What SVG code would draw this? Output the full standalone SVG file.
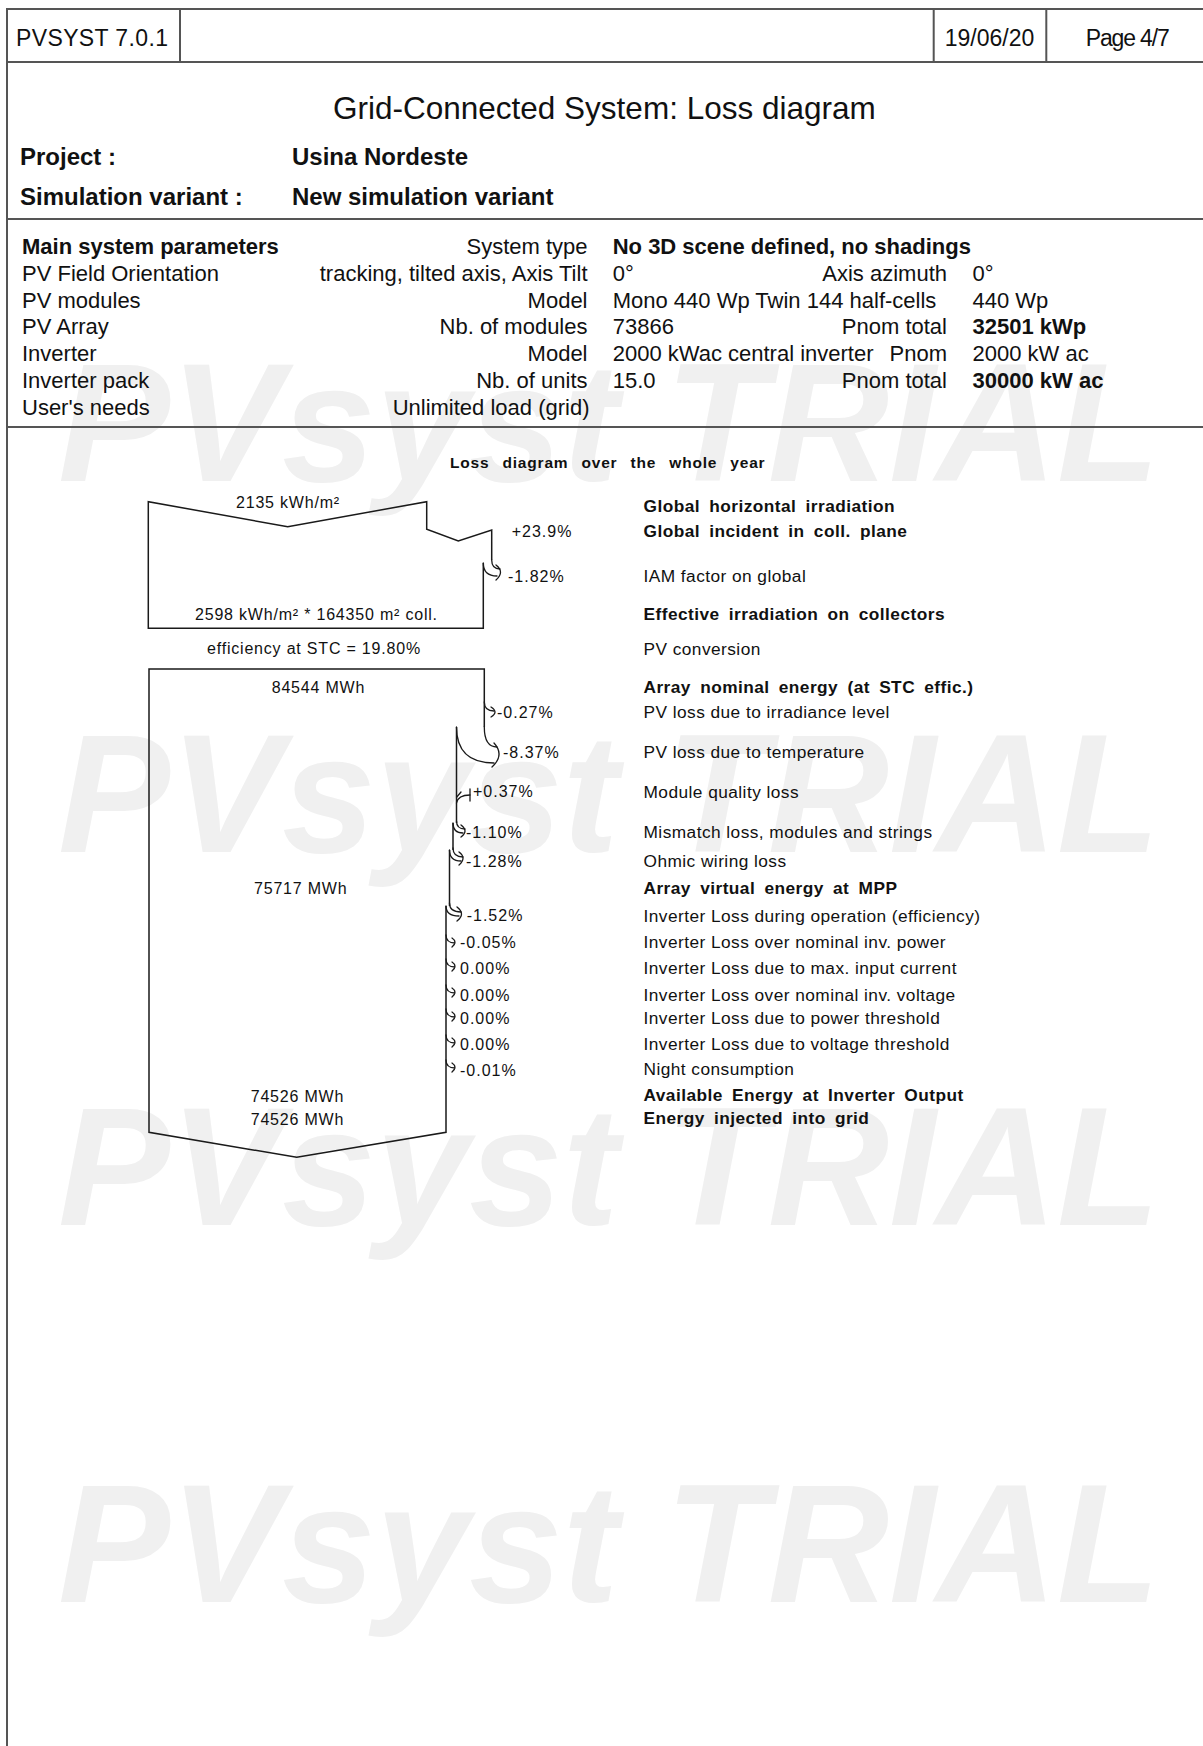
<svg xmlns="http://www.w3.org/2000/svg" width="1203" height="1746" viewBox="0 0 1203 1746">
<style>
text{font-family:"Liberation Sans",Arial,Helvetica,sans-serif;fill:#111}
.wm{font-size:168px;font-weight:bold;font-style:italic;fill:#f0f0f0}
.frame{stroke:#555;stroke-width:2;fill:none}
.hd{font-size:23px}
.title{font-size:31.5px}
.pj{font-size:24px;font-weight:bold}
.tb{font-size:22px}
.b{font-weight:bold}
.e{text-anchor:end}
.cap{font-size:15.5px;font-weight:bold;letter-spacing:0.8px;word-spacing:8px}
.num{font-size:16px;letter-spacing:0.8px}
.pct{font-size:16px;letter-spacing:1px}
.lb{font-size:17.3px;letter-spacing:0.45px}
.lbb{font-size:17.3px;letter-spacing:0.45px;word-spacing:4px;font-weight:bold}
.flow{fill:none;stroke:#1a1a1a;stroke-width:1.5;stroke-linejoin:miter}
.arr{fill:none;stroke:#1a1a1a;stroke-width:1.3;stroke-linecap:round}
</style>

<rect width="1203" height="1746" fill="#fff"/>

<g id="watermarks">
<text class="wm" x="58" y="481">PVsyst TRIAL</text>
<text class="wm" x="58" y="852">PVsyst TRIAL</text>
<text class="wm" x="58" y="1225">PVsyst TRIAL</text>
<text class="wm" x="58" y="1602">PVsyst TRIAL</text>
</g>

<g id="page-frame">
<path class="frame" d="M7,1746 V9 H1203 M7,62 H1203 M180,9 V62 M933.7,9 V62 M1046.3,9 V62 M7,219 H1203 M7,427 H1203"/>
</g>

<g id="header">
<text class="hd" x="16" y="45.5" textLength="152">PVSYST 7.0.1</text>
<text class="hd" x="944.7" y="45.5">19/06/20</text>
<text class="hd" x="1085.7" y="45.5" textLength="84">Page 4/7</text>
</g>

<g id="title-block">
<text class="title" x="333" y="119">Grid-Connected System: Loss diagram</text>
<text class="pj" x="20" y="165">Project :</text>
<text class="pj" x="292" y="165">Usina Nordeste</text>
<text class="pj" x="20" y="205">Simulation variant :</text>
<text class="pj" x="292" y="205">New simulation variant</text>
</g>

<g id="parameters" class="tb">
<text class="tb b" x="22" y="254">Main system parameters</text>
<text class="tb" x="22" y="281">PV Field Orientation</text>
<text class="tb" x="22" y="307.5">PV modules</text>
<text class="tb" x="22" y="334">PV Array</text>
<text class="tb" x="22" y="361">Inverter</text>
<text class="tb" x="22" y="388">Inverter pack</text>
<text class="tb" x="22" y="415">User's needs</text>

<text class="tb e" x="587.5" y="254">System type</text>
<text class="tb e" x="587.5" y="281">tracking, tilted axis, Axis Tilt</text>
<text class="tb e" x="587.5" y="307.5">Model</text>
<text class="tb e" x="587.5" y="334">Nb. of modules</text>
<text class="tb e" x="587.5" y="361">Model</text>
<text class="tb e" x="587.5" y="388">Nb. of units</text>
<text class="tb e" x="589.5" y="415">Unlimited load (grid)</text>

<text class="tb b" x="612.7" y="254">No 3D scene defined, no shadings</text>
<text class="tb" x="612.7" y="281">0°</text>
<text class="tb" x="612.7" y="307.5">Mono 440 Wp Twin 144 half-cells</text>
<text class="tb" x="612.7" y="334">73866</text>
<text class="tb" x="612.7" y="361">2000 kWac central inverter</text>
<text class="tb" x="612.7" y="388">15.0</text>

<text class="tb e" x="947" y="281">Axis azimuth</text>
<text class="tb e" x="947" y="334">Pnom total</text>
<text class="tb e" x="947" y="361">Pnom</text>
<text class="tb e" x="947" y="388">Pnom total</text>

<text class="tb" x="972.5" y="281">0°</text>
<text class="tb" x="972.5" y="307.5">440 Wp</text>
<text class="tb b" x="972.5" y="334">32501 kWp</text>
<text class="tb" x="972.5" y="361">2000 kW ac</text>
<text class="tb b" x="972.5" y="388">30000 kW ac</text>
</g>

<text class="cap" x="450" y="468">Loss diagram over the whole year</text>

<g id="irradiation-box">
<path class="flow" d="M491.7,560 V530 L458.3,541 L426.7,529.3 V501.7 L287.7,526.7 L148.3,501.7 V628.3 H483.3 V563"/>
<text class="num" x="236" y="508">2135 kWh/m²</text>
<text class="num" x="195" y="620">2598 kWh/m² * 164350 m² coll.</text>
</g>

<text class="num" x="207" y="654.3">efficiency at STC = 19.80%</text>

<g id="energy-box">
<path class="flow" d="M484.3,727 V669 H149 V1132.3 L296.7,1157.3 L446,1132.3 V906"/>
<path class="flow" d="M456.5,727 V823"/>
<path class="flow" d="M453,823 V850"/>
<path class="flow" d="M449.5,850 V906"/>
<text class="num" x="271.7" y="693.3">84544 MWh</text>
<text class="num" x="254" y="894">75717 MWh</text>
<text class="num" x="250.7" y="1101.7">74526 MWh</text>
<text class="num" x="250.7" y="1125">74526 MWh</text>
</g>

<g id="connectors">
<!-- +23.9% gain drawn by box shape; -1.82% IAM -->
<path class="arr" d="M491.7,560 Q491.7,569 500,569"/>
<path class="arr" d="M483.3,563 Q483.3,576 497,576"/>
<path class="arr" d="M496,565 Q505,572 496,580"/>
<!-- -0.27% -->
<path class="arr" d="M484.3,702 Q484.3,711 494,711"/>
<path class="arr" d="M491,707 Q499,712 491,717"/>
<!-- -8.37% -->
<path class="arr" d="M484.3,727 Q484.3,747 497,747"/>
<path class="arr" d="M456.5,727 Q456.5,763 494,763"/>
<path class="arr" d="M494,743 Q505,755 492,767"/>
<!-- +0.37% gain -->
<path class="arr" d="M456.5,803 Q458,795 470,795"/>
<path class="arr" d="M470,789 V801"/>
<path class="arr" d="M461,792 L456.8,797"/>
<!-- -1.10% -->
<path class="arr" d="M456.5,821 Q456.5,829 465,829"/>
<path class="arr" d="M453,823 Q453,833 463,833"/>
<path class="arr" d="M461,825 Q469,831 461,837"/>
<!-- -1.28% -->
<path class="arr" d="M453,848 Q453,857 463,857"/>
<path class="arr" d="M449.5,850 Q449.5,861 461,861"/>
<path class="arr" d="M459,852 Q467,858 459,865"/>
<!-- -1.52% -->
<path class="arr" d="M449.5,903 Q449.5,912 461,912"/>
<path class="arr" d="M446,906 Q446,916 459,916"/>
<path class="arr" d="M457,907 Q466,914 457,921"/>
<!-- small inverter losses -->
<path class="arr" d="M446,935 Q446,943 455,943 M452,938 Q458,942 452,947"/>
<path class="arr" d="M446,959 Q446,967 455,967 M452,962 Q458,966 452,971"/>
<path class="arr" d="M446,985 Q446,993 455,993 M452,988 Q458,992 452,997"/>
<path class="arr" d="M446,1009 Q446,1017 455,1017 M452,1012 Q458,1016 452,1021"/>
<path class="arr" d="M446,1035 Q446,1043 455,1043 M452,1038 Q458,1042 452,1047"/>
<path class="arr" d="M446,1060 Q446,1068 455,1068 M452,1063 Q458,1067 452,1072"/>
</g>

<g id="loss-values">
<text class="pct" x="511.7" y="536.7">+23.9%</text>
<text class="pct" x="508" y="581.7">-1.82%</text>
<text class="pct" x="497" y="718.3">-0.27%</text>
<text class="pct" x="503" y="758.3">-8.37%</text>
<text class="pct" x="473" y="797.3">+0.37%</text>
<text class="pct" x="466" y="838.3">-1.10%</text>
<text class="pct" x="466" y="866.7">-1.28%</text>
<text class="pct" x="466.7" y="920.7">-1.52%</text>
<text class="pct" x="460" y="948.3">-0.05%</text>
<text class="pct" x="460" y="974">0.00%</text>
<text class="pct" x="460" y="1000.7">0.00%</text>
<text class="pct" x="460" y="1024">0.00%</text>
<text class="pct" x="460" y="1050">0.00%</text>
<text class="pct" x="460" y="1075.7">-0.01%</text>
</g>

<g id="loss-labels">
<text class="lbb" x="643.5" y="511.7">Global horizontal irradiation</text>
<text class="lbb" x="643.5" y="537.3">Global incident in coll. plane</text>
<text class="lb" x="643.5" y="582.3">IAM factor on global</text>
<text class="lbb" x="643.5" y="620">Effective irradiation on collectors</text>
<text class="lb" x="643.5" y="655">PV conversion</text>
<text class="lbb" x="643.5" y="693.3">Array nominal energy (at STC effic.)</text>
<text class="lb" x="643.5" y="718.3">PV loss due to irradiance level</text>
<text class="lb" x="643.5" y="758.3">PV loss due to temperature</text>
<text class="lb" x="643.5" y="798.3">Module quality loss</text>
<text class="lb" x="643.5" y="838.3">Mismatch loss, modules and strings</text>
<text class="lb" x="643.5" y="866.7">Ohmic wiring loss</text>
<text class="lbb" x="643.5" y="894">Array virtual energy at MPP</text>
<text class="lb" x="643.5" y="921.7">Inverter Loss during operation (efficiency)</text>
<text class="lb" x="643.5" y="948.3">Inverter Loss over nominal inv. power</text>
<text class="lb" x="643.5" y="974">Inverter Loss due to max. input current</text>
<text class="lb" x="643.5" y="1000.7">Inverter Loss over nominal inv. voltage</text>
<text class="lb" x="643.5" y="1024">Inverter Loss due to power threshold</text>
<text class="lb" x="643.5" y="1050">Inverter Loss due to voltage threshold</text>
<text class="lb" x="643.5" y="1075">Night consumption</text>
<text class="lbb" x="643.5" y="1100.7">Available Energy at Inverter Output</text>
<text class="lbb" x="643.5" y="1124">Energy injected into grid</text>
</g>
</svg>
